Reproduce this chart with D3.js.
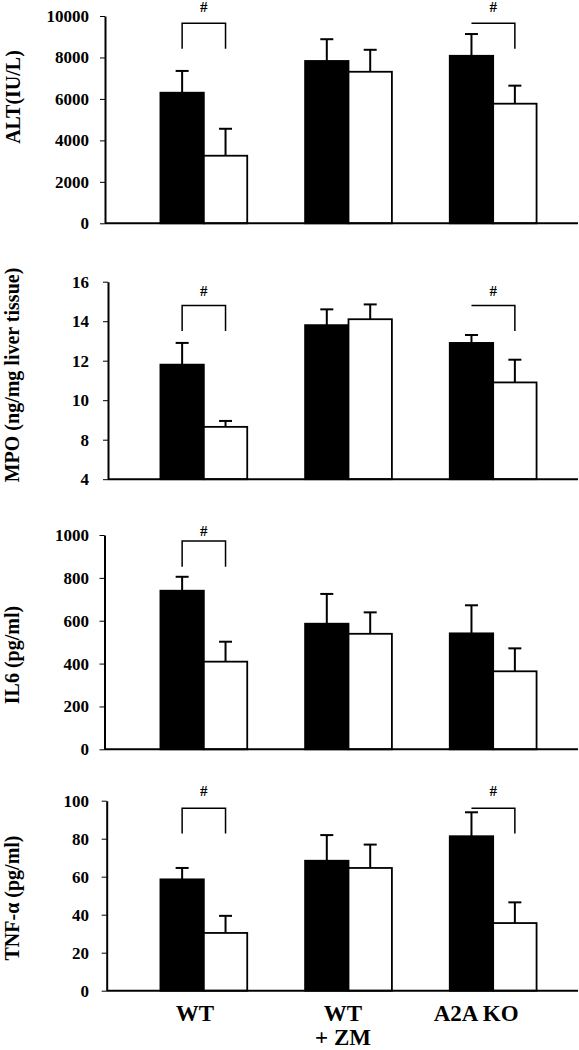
<!DOCTYPE html>
<html><head><meta charset="utf-8">
<script src="https://cdn.jsdelivr.net/npm/d3@7"></script>
<style>
html,body{margin:0;padding:0;background:#fff;}
svg{display:block;}
text{font-family:"Liberation Serif","Times New Roman",serif;font-weight:bold;fill:#000;}
</style></head>
<body>
<svg id="chart" width="579" height="1050"></svg>
<script>
// ---------- data ----------
const groups = ["WT", "WT + ZM", "A2A KO"];
const groupLabelLines = [["WT"], ["WT", "+ ZM"], ["A2A KO"]];
const series = ["black", "white"];

const altBlack = [6300, 7830, 8080];
const altBlackErr = [1050, 1050, 1050];
const altWhite = [3260, 7310, 5770];
const altWhiteErr = [1300, 1060, 870];
const altTicks = [0, 2000, 4000, 6000, 8000, 10000];
const altTickLabels = ["0", "2000", "4000", "6000", "8000", "10000"];
const altBracket = [9650, 8420];       // bracket top, leg bottom
const altSig = [[0, true], [2, false]]; // group, left leg drawn

const mpoBlack = [11.8, 13.8, 12.9];
const mpoBlackErr = [1.1, 0.8, 0.4];
const mpoWhite = [8.65, 14.1, 10.9];
const mpoWhiteErr = [0.3, 0.75, 1.15];
const mpoTicks = [6, 8, 10, 12, 14, 16];
const mpoTickLabels = ["4", "8", "10", "12", "14", "16"];
const mpoBracket = [14.8, 13.5];
const mpoSig = [[0, true], [2, false]];

const il6Black = [740, 586, 541];
const il6BlackErr = [65, 139, 131];
const il6White = [409, 539, 364];
const il6WhiteErr = [93, 100, 107];
const il6Ticks = [0, 200, 400, 600, 800, 1000];
const il6TickLabels = ["0", "200", "400", "600", "800", "1000"];
const il6Bracket = [972, 852];
const il6Sig = [[0, true]];

const tnfBlack = [58.6, 68.4, 81.3];
const tnfBlackErr = [6, 13.5, 12.6];
const tnfWhite = [30.4, 64.6, 35.6];
const tnfWhiteErr = [9, 12.3, 10.9];
const tnfTicks = [0, 20, 40, 60, 80, 100];
const tnfTickLabels = ["0", "20", "40", "60", "80", "100"];
const tnfBracket = [96, 82.8];
const tnfSig = [[0, true], [2, false]];

const titles = ["ALT(IU/L)", "MPO (ng/mg liver tissue)", "IL6 (pg/ml)", "TNF-\u03b1 (pg/ml)"];

// ---------- layout ----------
const layout = [
  {top: 16,    bottom: 223.3, axisX: 105,   titleX: 19.5, titleY: 97,  hashGap: 11},
  {top: 281.7, bottom: 479.2, axisX: 108,   titleX: 19,   titleY: 375, hashGap: 9},
  {top: 535,   bottom: 749.3, axisX: 104.5, titleX: 19,   titleY: 655, hashGap: 5},
  {top: 800.7, bottom: 990.7, axisX: 106.7, titleX: 19,   titleY: 898, hashGap: 12}
];

const panels = [
  {black: altBlack, blackErr: altBlackErr, white: altWhite, whiteErr: altWhiteErr, ticks: altTicks, tickLabels: altTickLabels, bracket: altBracket, sig: altSig},
  {black: mpoBlack, blackErr: mpoBlackErr, white: mpoWhite, whiteErr: mpoWhiteErr, ticks: mpoTicks, tickLabels: mpoTickLabels, bracket: mpoBracket, sig: mpoSig},
  {black: il6Black, blackErr: il6BlackErr, white: il6White, whiteErr: il6WhiteErr, ticks: il6Ticks, tickLabels: il6TickLabels, bracket: il6Bracket, sig: il6Sig},
  {black: tnfBlack, blackErr: tnfBlackErr, white: tnfWhite, whiteErr: tnfWhiteErr, ticks: tnfTicks, tickLabels: tnfTickLabels, bracket: tnfBracket, sig: tnfSig}
];

const svg = d3.select("#chart");
const x0 = d3.scaleBand().domain(groups).range([131.5, 565.5]);
const x1 = d3.scaleBand().domain(series).range([x0.bandwidth() * 0.2, x0.bandwidth() * 0.8]);
const capW = 13;

panels.forEach((p, i) => {
  const L = layout[i];
  const y = d3.scaleLinear()
    .domain([d3.min(p.ticks), d3.max(p.ticks)])
    .range([L.bottom, L.top]);
  const g = svg.append("g");

  // y axis
  const axis = d3.axisLeft(y)
    .tickValues(p.ticks)
    .tickFormat((d, k) => p.tickLabels[k])
    .tickSize(5).tickSizeOuter(0)
    .tickPadding(L.axisX - 89 - 5);
  const ag = g.append("g").attr("transform", `translate(${L.axisX},0)`).call(axis);
  ag.select(".domain").attr("stroke", "#000").attr("stroke-width", 2);
  ag.selectAll(".tick line").attr("stroke", "#000").attr("stroke-width", 1);
  ag.selectAll(".tick text")
    .style("font-family", '"Liberation Serif","Times New Roman",serif')
    .style("font-weight", "bold").style("font-size", "17px").attr("fill", "#000");

  // bars
  groups.forEach((grp, gi) => {
    series.forEach(s => {
      const v = s === "black" ? p.black[gi] : p.white[gi];
      const e = s === "black" ? p.blackErr[gi] : p.whiteErr[gi];
      const bx = x0(grp) + x1(s);
      const cx = bx + x1.bandwidth() / 2;
      // error bar (upper only)
      g.append("line").attr("x1", cx).attr("x2", cx)
        .attr("y1", y(v)).attr("y2", y(v + e))
        .attr("stroke", "#000").attr("stroke-width", 2);
      g.append("line").attr("x1", cx - capW / 2).attr("x2", cx + capW / 2)
        .attr("y1", y(v + e)).attr("y2", y(v + e))
        .attr("stroke", "#000").attr("stroke-width", 2);
      g.append("rect")
        .attr("x", bx).attr("y", y(v))
        .attr("width", x1.bandwidth()).attr("height", y(y.domain()[0]) - y(v))
        .attr("fill", s === "black" ? "#000" : "#fff")
        .attr("stroke", "#000").attr("stroke-width", 1.8);
    });
  });

  // baseline
  g.append("line").attr("x1", L.axisX).attr("x2", 578)
    .attr("y1", y(y.domain()[0])).attr("y2", y(y.domain()[0]))
    .attr("stroke", "#000").attr("stroke-width", 2);

  // significance brackets
  p.sig.forEach(([gi, leftLeg]) => {
    const grp = groups[gi];
    const xa = x0(grp) + x1("black") + x1.bandwidth() / 2;
    const xb = x0(grp) + x1("white") + x1.bandwidth() / 2;
    const yt = y(p.bracket[0]), yl = y(p.bracket[1]);
    let d = leftLeg ? `M${xa},${yl}V${yt}H${xb}V${yl}` : `M${xa},${yt}H${xb}V${yl}`;
    g.append("path").attr("d", d).attr("fill", "none")
      .attr("stroke", "#000").attr("stroke-width", 1.5);
    g.append("text").attr("x", (xa + xb) / 2).attr("y", yt - L.hashGap)
      .attr("text-anchor", "middle").style("font-size", "15px").text("#");
  });

  // title
  g.append("text")
    .attr("transform", `translate(${L.titleX},${L.titleY}) rotate(-90)`)
    .attr("text-anchor", "middle").style("font-size", "20px")
    .text(titles[i]);
});

// category labels
const labelShift = [-9, -5.5, -17];
groups.forEach((grp, gi) => {
  const cx = x0(grp) + x0.bandwidth() / 2 + labelShift[gi];
  groupLabelLines[gi].forEach((ln, li) => {
    svg.append("text").attr("x", cx).attr("y", 1021 + li * 24)
      .attr("text-anchor", "middle").style("font-size", "23px").text(ln);
  });
});
</script>
</body></html>
